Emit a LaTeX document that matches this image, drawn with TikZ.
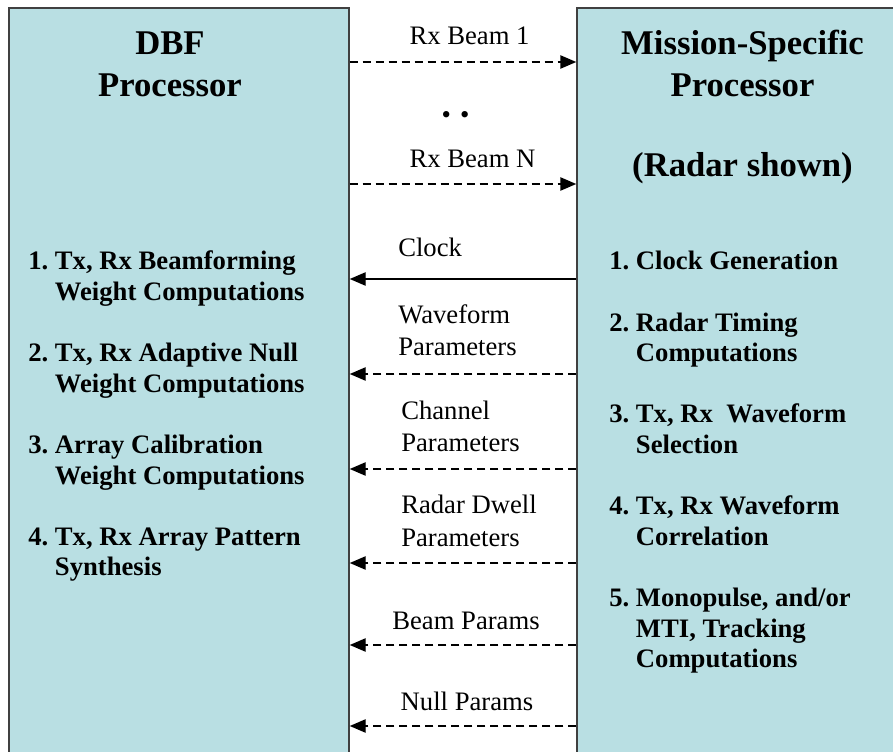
\documentclass[tikz,border=0pt]{standalone}
\usepackage{fontspec}
\setmainfont{Liberation Serif}
\usetikzlibrary{arrows.meta,fit}
\definecolor{boxfill}{RGB}{185,223,227}
\definecolor{boxline}{RGB}{64,64,64}
\tikzset{
  procbox/.style={draw=boxline, fill=boxfill, line width=1.1pt, inner sep=0pt},
  sigline/.style={line width=1.1pt, -{Triangle[length=12pt,width=10pt]}},
  dashline/.style={sigline, dash pattern=on 6pt off 3.75pt},
  siglabel/.style={inner sep=0pt, font=\fontsize{20}{24}\selectfont, align=left},
  titletext/.style={inner sep=0pt, anchor=base, font=\fontsize{26}{31.5}\selectfont\bfseries, align=center},
  listtext/.style={inner sep=0pt, anchor=base west, font=\fontsize{20}{22.95}\selectfont\bfseries}
}
\begin{document}
\begin{tikzpicture}[x=0.75pt,y=0.75pt]
    \useasboundingbox (0,0) rectangle (893,751);
    \clip (0,0) rectangle (893,751);
    % Bloques
    \node[procbox, fit={(9,-20) (349,743)}] (dbf) {};
    \node[procbox, fit={(577,-20) (920,743)}] (msp) {};
    % Titulos (base = ultima linea)
    \node[titletext] (dbftitle) at (170,654) {DBF\\Processor};
    \node[titletext] (msptitle) at (742.5,574) {Mission-Specific\\Processor\\[28.5pt](Radar shown)};
    % Listas
    \node[listtext] (dbflist) at (28,481) {\begin{tabular}[t]{@{}l@{\ }l@{}}
        1. & Tx, Rx Beamforming\\
           & Weight Computations\\
           & \\
        2. & Tx, Rx Adaptive Null\\
           & Weight Computations\\
           & \\
        3. & Array Calibration\\
           & Weight Computations\\
           & \\
        4. & Tx, Rx Array Pattern\\
           & Synthesis
        \end{tabular}};
    \node[listtext] (msplist) at (609,481) {\begin{tabular}[t]{@{}l@{\ }l@{}}
        1. & Clock Generation\\
           & \\
        2. & Radar Timing\\
           & Computations\\
           & \\
        3. & Tx, Rx\ \ Waveform\\
           & Selection\\
           & \\
        4. & Tx, Rx Waveform\\
           & Correlation\\
           & \\
        5. & Monopulse, and/or\\
           & MTI, Tracking\\
           & Computations
        \end{tabular}};
    % Senales
    \draw[dashline] (dbf.east |- 0,689) -- (msp.west |- 0,689);
    \draw[dashline] (dbf.east |- 0,567) -- (msp.west |- 0,567);
    \draw[sigline] (msp.west |- 0,472) -- (dbf.east |- 0,472);
    \draw[dashline] (msp.west |- 0,377) -- (dbf.east |- 0,377);
    \draw[dashline] (msp.west |- 0,282) -- (dbf.east |- 0,282);
    \draw[dashline] (msp.west |- 0,188) -- (dbf.east |- 0,188);
    \draw[dashline] (msp.west |- 0,106) -- (dbf.east |- 0,106);
    \draw[dashline] (msp.west |- 0,25) -- (dbf.east |- 0,25);
    % Etiquetas
    \node[siglabel, anchor=base] (rxone) at (469.5,706) {Rx Beam 1};
    \node[siglabel, anchor=base] (rxdots) at (455.5,627) {•\hspace{7pt}•};
    \node[siglabel, anchor=base] (rxlast) at (472.5,583) {Rx Beam N};
    \node[siglabel, anchor=base west] (clk) at (398,494) {Clock};
    \node[siglabel, anchor=base west] (wfp) at (398,395) {Waveform\\Parameters};
    \node[siglabel, anchor=base west] (chp) at (401,300) {Channel\\Parameters};
    \node[siglabel, anchor=base west] (rdp) at (401,205) {Radar Dwell\\Parameters};
    \node[siglabel, anchor=base] (bmp) at (466,122) {Beam Params};
    \node[siglabel, anchor=base] (nlp) at (467,41) {Null Params};
\end{tikzpicture}
\end{document}
